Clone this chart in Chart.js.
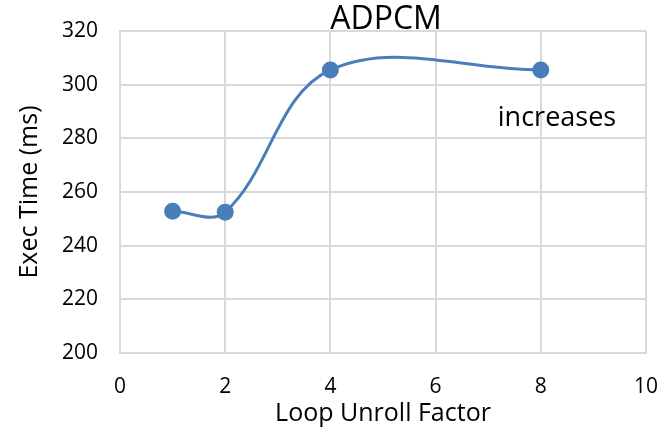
<!DOCTYPE html>
<html>
<head>
<meta charset="utf-8">
<script src="https://cdn.jsdelivr.net/npm/chart.js@4/dist/chart.umd.min.js"></script>
<style>
  html, body { margin: 0; padding: 0; background: #fff; }
  #wrap { width: 663px; height: 429px; position: relative; }
</style>
</head>
<body>
<div id="wrap"><canvas id="chart"></canvas></div>
<script>
// loop unroll factor vs execution time
const unrollFactors = [1, 2, 4, 8];
const execTimes = [252.8, 252.5, 305.5, 305.5];
const xTicks = [0, 2, 4, 6, 8, 10];
const yTicks = [200, 220, 240, 260, 280, 300, 320];

const chartTitle = 'ADPCM';
const note = 'increases';
const FONT = '"Open Sans", sans-serif';

const points = unrollFactors.map((x, i) => ({ x: x, y: execTimes[i] }));

const textPlugin = {
  id: 'textPlugin',
  afterDraw(chart) {
    const ctx = chart.ctx;
    ctx.save();
    ctx.fillStyle = '#000';
    ctx.textAlign = 'center';
    ctx.textBaseline = 'middle';
    ctx.font = '32px ' + FONT;
    ctx.fillText(chartTitle, 386, 20);
    ctx.font = '27px ' + FONT;
    ctx.fillText(note, 557, 118);
    ctx.restore();
  }
};

new Chart(document.getElementById('chart'), {
  type: 'scatter',
  data: {
    datasets: [{
      data: points,
      showLine: true,
      borderColor: '#4a7ebb',
      backgroundColor: '#4a7ebb',
      borderWidth: 3,
      pointRadius: 7,
      tension: 0.37,
      fill: false
    }]
  },
  options: {
    responsive: true,
    maintainAspectRatio: false,
    animation: false,
    layout: { padding: { top: 31, right: 17, left: 0, bottom: 0 } },
    plugins: { legend: { display: false }, tooltip: { enabled: false } },
    scales: {
      x: {
        type: 'linear',
        min: 0,
        max: 10,
        afterBuildTicks: (scale) => { scale.ticks = xTicks.map(v => ({ value: v })); },
        afterFit: (scale) => {
          scale.height = 76;
          scale.paddingLeft = 0;
          scale.paddingRight = 0;
        },
        grid: { color: '#d9d9d9', lineWidth: 2, drawTicks: false },
        border: { color: '#d9d9d9', width: 2 },
        ticks: { color: '#000', font: { family: FONT, size: 21 }, padding: 21, maxRotation: 0 },
        title: { display: true, text: 'Loop Unroll Factor', color: '#000', font: { family: FONT, size: 25 }, padding: 0 }
      },
      y: {
        min: 200,
        max: 320,
        afterBuildTicks: (scale) => { scale.ticks = yTicks.map(v => ({ value: v })); },
        afterFit: (scale) => {
          scale.width = 120;
          scale.paddingTop = 0;
          scale.paddingBottom = 0;
        },
        grid: { color: '#d9d9d9', lineWidth: 2, drawTicks: false },
        border: { color: '#d9d9d9', width: 2 },
        ticks: { color: '#000', font: { family: FONT, size: 21 }, padding: 22 },
        title: { display: true, text: 'Exec Time (ms)', color: '#000', font: { family: FONT, size: 25 }, padding: { top: 15, bottom: 0 } }
      }
    }
  },
  plugins: [textPlugin]
});
</script>
</body>
</html>
